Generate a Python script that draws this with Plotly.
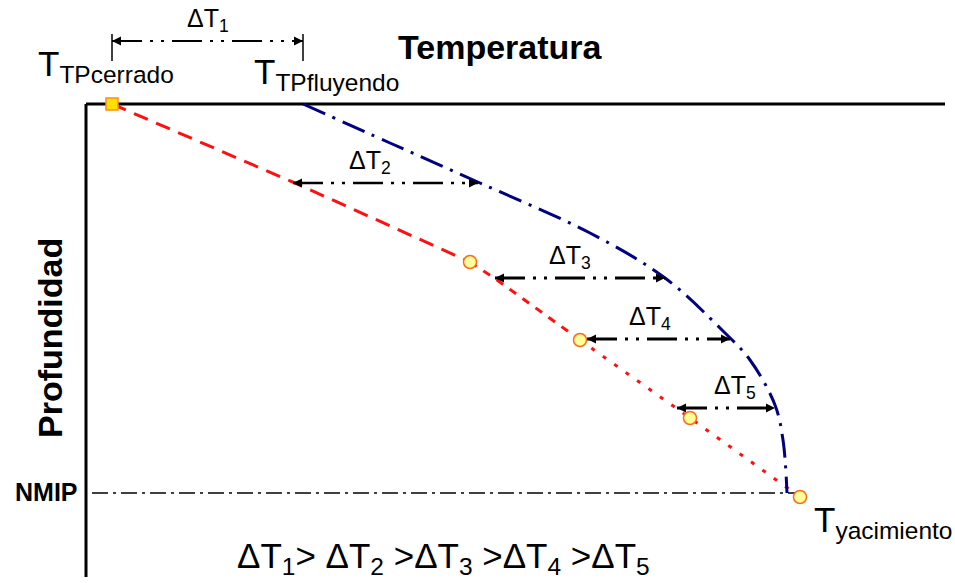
import plotly.graph_objects as go

# ---------------- data (diagram units: x = temperature, y = depth) ----------------
# axes of the sketch
axis_top_T = [86, 945]
axis_top_D = [104, 104]
axis_left_T = [86, 86]
axis_left_D = [104, 577]

# shut-in (static) gradient, red, in three stretches
static1_T = [112, 295, 470]
static1_D = [104, 183, 262]
static2_T = [470, 497, 580]
static2_D = [262, 280, 340]
static3_T = [580, 690, 800]
static3_D = [340, 418, 497]

# flowing gradient, blue
flow_T = [303, 390, 480, 590, 665, 722, 750, 775, 783, 787]
flow_D = [104, 143, 183, 233, 278, 330, 360, 405, 440, 493]

# measured points
pts_T = [470, 580, 690, 800]
pts_D = [262, 340, 418, 497]
head_T = [112]
head_D = [104]

# NMIP level
nmip_T = [92, 797]
nmip_D = [493, 493]

# delta-T arrows
dT_names = ["ΔT<sub>1</sub>", "ΔT<sub>2</sub>", "ΔT<sub>3</sub>", "ΔT<sub>4</sub>", "ΔT<sub>5</sub>"]
dT_left = [112, 293, 495, 587, 677]
dT_right = [303, 478, 665, 730, 775]
dT_depth = [41, 183, 278, 339, 408]
dT_label_T = [208, 370, 570, 650, 735]
dT_width = [2, 2.5, 3, 3, 3]
tick1_T = [112, 303]
tick1_top = [34, 34]
tick1_bot = [61, 61]

FONT = "Liberation Sans, Arial, sans-serif"

fig = go.Figure()

def line(x, y, color, width, dash, shape="linear"):
    fig.add_trace(go.Scatter(x=x, y=y, mode="lines",
                             line=dict(color=color, width=width, dash=dash, shape=shape),
                             hoverinfo="skip", showlegend=False))

# axes
line(axis_top_T, axis_top_D, "black", 3, "solid")
line(axis_left_T, axis_left_D, "black", 3, "solid")

# NMIP
line(nmip_T, nmip_D, "black", 1.5, "16px,5px,3px,5px")

# red static profile
line(static1_T, static1_D, "#FF1010", 3, "15px,9px")
line(static2_T, static2_D, "#FF1010", 3, "8px,8px")
line(static3_T, static3_D, "#FF1010", 3, "4px,10px")

# blue flowing profile
line(flow_T, flow_D, "#000080", 3, "24px,8px,3px,8px", shape="spline")

# delta T arrows
for i in range(len(dT_names)):
    line([dT_left[i], dT_right[i]], [dT_depth[i], dT_depth[i]], "black", dT_width[i],
         "30px,8px,3px,8px,3px,8px")
    fig.add_trace(go.Scatter(x=[dT_left[i], dT_right[i]], y=[dT_depth[i], dT_depth[i]],
                             mode="markers",
                             marker=dict(symbol=["arrow-left", "arrow-right"], size=9,
                                         color="black"),
                             hoverinfo="skip", showlegend=False))
    fig.add_annotation(x=dT_label_T[i], y=dT_depth[i] - 3, text=dT_names[i],
                       showarrow=False, xanchor="center", yanchor="bottom",
                       font=dict(family=FONT, size=25, color="black"))

for i in range(len(tick1_T)):
    line([tick1_T[i], tick1_T[i]], [tick1_top[i], tick1_bot[i]], "black", 1.5, "solid")

# points
fig.add_trace(go.Scatter(x=pts_T, y=pts_D, mode="markers",
                         marker=dict(symbol="circle", size=13, color="#FFFF99",
                                     line=dict(color="#FF6A1A", width=1.5)),
                         hoverinfo="skip", showlegend=False))
fig.add_trace(go.Scatter(x=head_T, y=head_D, mode="markers",
                         marker=dict(symbol="square", size=12, color="#FFE000",
                                     line=dict(color="#FF8C1A", width=1.5)),
                         hoverinfo="skip", showlegend=False))

# texts
def text(x, y, s, size, bold=False, xanchor="left", yanchor="middle", angle=0):
    fig.add_annotation(x=x, y=y, text=("<b>%s</b>" % s) if bold else s, showarrow=False,
                       xanchor=xanchor, yanchor=yanchor, textangle=angle,
                       font=dict(family=FONT, size=size, color="black"))

text(500, 47, "Temperatura", 34, bold=True, xanchor="center")
text(50, 338, "Profundidad", 34, bold=True, xanchor="center", angle=-90)
text(80, 492, "NMIP", 25, bold=True, xanchor="right")
text(36, 66, "T<sub>TPcerrado</sub>", 35)
text(252, 74, "T<sub>TPfluyendo</sub>", 35)
text(812, 522, "T<sub>yacimiento</sub>", 35)
text(443, 558, "ΔT<sub>1</sub>> ΔT<sub>2</sub> >ΔT<sub>3</sub> >ΔT<sub>4</sub> >ΔT<sub>5</sub>",
     35, xanchor="center")

fig.update_layout(width=955, height=583, margin=dict(l=0, r=0, t=0, b=0),
                  paper_bgcolor="white", plot_bgcolor="white",
                  xaxis=dict(range=[0, 955], visible=False, fixedrange=True),
                  yaxis=dict(range=[583, 0], visible=False, fixedrange=True))

fig.write_html("out.html", config={"displayModeBar": False},
               post_script="document.body.style.margin='0px';")
